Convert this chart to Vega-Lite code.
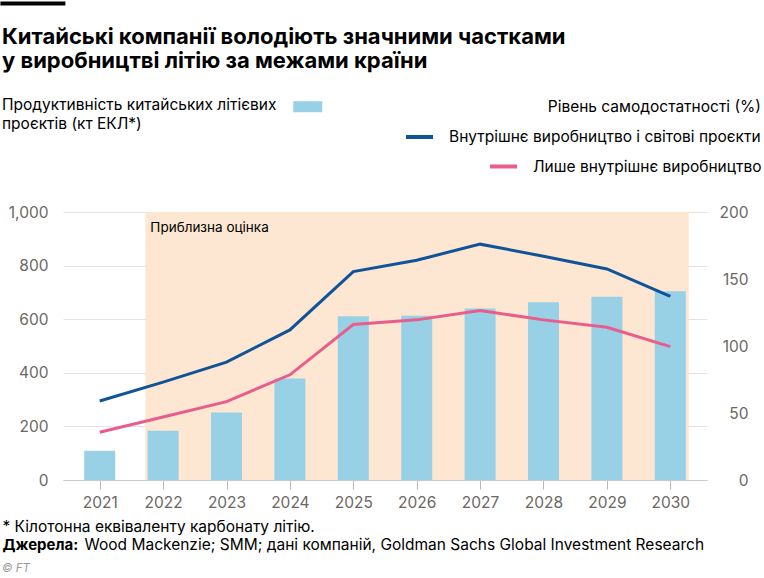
{
  "$schema": "https://vega.github.io/schema/vega-lite/v6.json",
  "width": 644,
  "height": 268,
  "autosize": {"type": "none"},
  "padding": {"left": 63, "top": 212, "right": 57, "bottom": 98},
  "background": "white",
  "config": {
    "view": {"stroke": null},
    "font": "Inter",
    "legend": {"padding": 0, "labelFont": "Inter", "labelFontSize": 15.5, "labelColor": "#000000", "titleFont": "Inter", "titleFontSize": 15.5, "titleFontWeight": 400, "titleColor": "#000000", "titleLimit": 500, "labelLimit": 500}
  },
  "title": {
    "text": ["Китайські компанії володіють значними частками", "у виробництві літію за межами країни"],
    "font": "Inter",
    "fontSize": 22,
    "fontWeight": 700,
    "lineHeight": 24,
    "color": "#000000",
    "anchor": "start",
    "frame": "group",
    "dx": -61,
    "offset": -580,
    "subtitle": "© FT",
    "subtitleFont": "Inter",
    "subtitleFontSize": 11.5,
    "subtitleFontStyle": "italic",
    "subtitleColor": "#9a9a9a",
    "subtitlePadding": 490
  },
  "datasets": {
    "main": [
      {"year": 2021, "capacity": 109, "total": 59, "domestic": 35.6},
      {"year": 2022, "capacity": 184, "total": 73, "domestic": 47},
      {"year": 2023, "capacity": 252, "total": 88, "domestic": 58.5},
      {"year": 2024, "capacity": 379, "total": 112, "domestic": 78.5},
      {"year": 2025, "capacity": 611, "total": 155.5, "domestic": 116},
      {"year": 2026, "capacity": 613, "total": 164, "domestic": 119.5},
      {"year": 2027, "capacity": 640, "total": 176, "domestic": 126.5},
      {"year": 2028, "capacity": 663, "total": 167, "domestic": 119.5},
      {"year": 2029, "capacity": 684, "total": 157.5, "domestic": 114},
      {"year": 2030, "capacity": 704, "total": 137, "domestic": 99.5}
    ],
    "shade": [
      {"year": 2021.72, "end": 2030.29, "label": "Приблизна оцінка"}
    ]
  },
  "layer": [
    {
      "data": {"name": "shade"},
      "mark": {"type": "rect", "color": "#fde6d2"},
      "encoding": {
        "x": {
          "field": "year",
          "type": "quantitative",
          "scale": {"domain": [2020.5, 2030.5], "nice": false, "zero": false},
          "axis": {
            "title": "* Кілотонна еквіваленту карбонату літію.",
            "titleFont": "Inter",
            "titleFontSize": 15.5,
            "titleFontWeight": 400,
            "titleColor": "#000000",
            "titleAnchor": "start",
            "titleAlign": "left",
            "titleBaseline": "alphabetic",
            "titleX": -61,
            "titleY": 51,
            "values": [2021, 2022, 2023, 2024, 2025, 2026, 2027, 2028, 2029, 2030],
            "format": "d",
            "grid": false,
            "domain": true,
            "domainColor": "#cfc9c4",
            "ticks": true,
            "tickSize": 9,
            "tickColor": "#bdb7b2",
            "labelFont": "Inter",
            "labelFontSize": 15.5,
            "labelColor": "#6b6764",
            "labelPadding": 6
          }
        },
        "x2": {"field": "end"}
      }
    },
    {
      "layer": [
        {
          "data": {"name": "main"},
          "mark": {"type": "bar", "width": 31},
          "encoding": {
            "x": {"field": "year", "type": "quantitative"},
            "y": {
              "field": "capacity",
              "type": "quantitative",
              "scale": {"domain": [0, 1000], "nice": false},
              "axis": {
                "orient": "left",
                "values": [0, 200, 400, 600, 800, 1000],
                "format": ",d",
                "grid": true,
                "gridColor": "#e6e2de",
                "domain": false,
                "ticks": false,
                "labelFont": "Inter",
                "labelFontSize": 15.5,
                "labelColor": "#6b6764",
                "labelPadding": 15,
                "title": "Джерела:",
                "titleFont": "Inter",
                "titleFontSize": 15,
                "titleFontWeight": 700,
                "titleColor": "#000000",
                "titleAngle": 0,
                "titleAlign": "left",
                "titleBaseline": "alphabetic",
                "titleX": -61,
                "titleY": 337
              }
            },
            "fill": {
              "datum": "bar",
              "type": "nominal",
              "scale": {"range": ["#98d0e6"]},
              "legend": {
                "orient": "none",
                "legendX": -61,
                "legendY": -113,
                "title": ["Продуктивність китайських літієвих", "проєктів (кт ЕКЛ*)"],
                "titleOrient": "left",
                "titleLineHeight": 19,
                "titleBaseline": "top",
                "titlePadding": 23,
                "labelExpr": "''",
                "symbolType": "M-2,-0.76H2V0.76H-2Z",
                "symbolSize": 210,
                "symbolStrokeWidth": 0
              }
            }
          }
        },
        {
          "data": {"name": "shade"},
          "mark": {"type": "text", "align": "left", "baseline": "alphabetic", "dx": 5, "dy": 20, "fontSize": 13.5, "font": "Inter", "color": "#000000"},
          "encoding": {
            "x": {"field": "year", "type": "quantitative"},
            "y": {"datum": 1000, "type": "quantitative"},
            "text": {"field": "label"},
            "opacity": {
              "datum": "rule",
              "type": "nominal",
              "scale": {"range": [1]},
              "legend": {
                "orient": "none",
                "legendX": -38.6,
                "legendY": -217,
                "title": null,
                "labelExpr": "''",
                "symbolType": "M-4,-0.25H4V0.25H-4Z",
                "symbolSize": 264,
                "symbolFillColor": "#000000",
                "symbolStrokeWidth": 0,
                "symbolOpacity": 1
              }
            }
          }
        }
      ]
    },
    {
      "data": {"name": "main"},
      "layer": [
        {
          "mark": {"type": "line", "strokeWidth": 3},
          "encoding": {
            "x": {"field": "year", "type": "quantitative"},
            "y": {
              "field": "total",
              "type": "quantitative",
              "scale": {"domain": [0, 200], "nice": false},
              "axis": {
                "orient": "right",
                "values": [0, 50, 100, 150, 200],
                "grid": false,
                "domain": false,
                "ticks": false,
                "labelFont": "Inter",
                "labelFontSize": 15.5,
                "labelColor": "#6b6764",
                "labelAlign": "right",
                "labelPadding": 41,
                "title": "Wood Mackenzie; SMM; дані компаній, Goldman Sachs Global Investment Research",
                "titleFont": "Inter",
                "titleFontSize": 15.5,
                "titleFontWeight": 400,
                "titleColor": "#000000",
                "titleAngle": 0,
                "titleAlign": "left",
                "titleBaseline": "alphabetic",
                "titleX": -623,
                "titleY": 337
              }
            },
            "stroke": {
              "datum": "Внутрішнє виробництво і світові проєкти",
              "type": "nominal",
              "scale": {"range": ["#0f5499"]},
              "legend": {
                "orient": "none",
                "legendX": 341,
                "legendY": -112,
                "title": "Рівень самодостатності (%)",
                "titleAnchor": "end",
                "titlePadding": 6,
                "symbolType": "stroke",
                "symbolSize": 729,
                "symbolStrokeWidth": 4,
                "labelOffset": 14
              }
            }
          }
        },
        {
          "mark": {"type": "line", "strokeWidth": 3},
          "encoding": {
            "x": {"field": "year", "type": "quantitative"},
            "y": {"field": "domestic", "type": "quantitative"},
            "stroke": {
              "datum": "Лише внутрішнє виробництво",
              "type": "nominal",
              "scale": {"range": ["#e95d8c"]},
              "legend": {
                "orient": "none",
                "legendX": 425,
                "legendY": -61,
                "title": null,
                "symbolType": "stroke",
                "symbolSize": 729,
                "symbolStrokeWidth": 4,
                "labelOffset": 14
              }
            }
          }
        }
      ],
      "resolve": {"scale": {"stroke": "independent"}}
    }
  ],
  "resolve": {"scale": {"y": "independent"}}
}
